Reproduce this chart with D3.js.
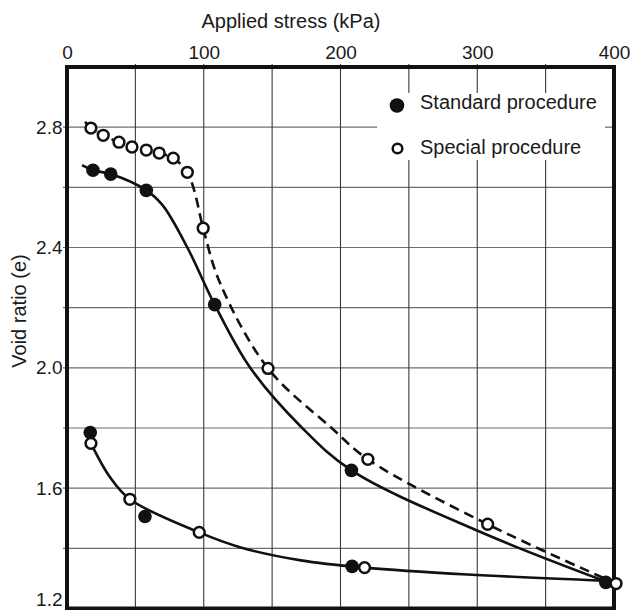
<!DOCTYPE html>
<html>
<head>
<meta charset="utf-8">
<script src="https://cdn.jsdelivr.net/npm/d3@7"></script>
<style>
  html, body { margin: 0; padding: 0; background: #fff; }
  svg { display: block; }
  text { font-family: "Liberation Sans", Arial, sans-serif; fill: #1a1a1a; }
</style>
</head>
<body>
<svg id="chart" width="630" height="610"></svg>
<script>
// ---- Data ----
// Marker points: [applied stress kPa, void ratio]
const standardLoading = [[19, 2.657], [32, 2.644], [58, 2.59], [108, 2.21], [208, 1.659], [394, 1.287]];
const standardUnloading = [[17, 1.785], [57, 1.506], [208.5, 1.34]];
const specialLoading = [[17.5, 2.797], [26.5, 2.773], [38, 2.75], [47.5, 2.734], [58, 2.724], [67.4, 2.714],
  [77.7, 2.697], [88, 2.65], [99.6, 2.464], [147, 1.998], [220, 1.696], [307.6, 1.48], [401.5, 1.283]];
const specialUnloading = [[17.5, 1.749], [46, 1.563], [96.7, 1.453], [217.6, 1.336]];

// Curve knots
const standardLoadingCurve = [[11, 2.674], [19, 2.657], [32, 2.644], [58, 2.59], [70, 2.54], [88, 2.40],
  [108, 2.21], [134, 2.0], [172, 1.8], [208, 1.659], [302, 1.455], [394, 1.29]];
const specialLoadingCurve = [[13.2, 2.818], [17.5, 2.797], [26.5, 2.773], [38, 2.75], [47.5, 2.734], [58, 2.724],
  [67.4, 2.714], [77.7, 2.697], [88, 2.65], [93, 2.59], [99.6, 2.464], [112, 2.281],
  [147, 1.998], [193.5, 1.8], [220, 1.696], [307.6, 1.48], [401.5, 1.283]];
const unloadingCurve = [[17.5, 1.749], [31.5, 1.636], [46, 1.563], [96.7, 1.453], [127, 1.403], [171, 1.36],
  [217.6, 1.336], [293, 1.313], [394, 1.292]];

// Axes
const xDomain = [0, 400];
const yDomain = [1.2, 3.0];
const xTickLabels = [0, 100, 200, 300, 400];
const xGridValues = [50, 100, 150, 200, 250, 300, 350];
const yTickLabels = [1.2, 1.6, 2.0, 2.4, 2.8];
const yGridValues = [1.4, 1.6, 1.8, 2.0, 2.2, 2.4, 2.6, 2.8];

const legendItems = ["Standard procedure", "Special procedure"];
const xTitle = "Applied stress (kPa)";
const yTitle = "Void ratio (e)";

// ---- Drawing ----
const svg = d3.select("#chart");
const L = 67, R = 614, T = 67, B = 608.5;
const x = d3.scaleLinear().domain(xDomain).range([L, R]);
const y = d3.scaleLinear().domain(yDomain).range([B, T]);

// grid
svg.append("g").selectAll("line").data(yGridValues).join("line")
  .attr("x1", L - 4).attr("x2", R).attr("y1", d => y(d)).attr("y2", d => y(d))
  .attr("stroke", "#6e6e6e").attr("stroke-width", 1.2);
svg.append("g").selectAll("line").data(xGridValues).join("line")
  .attr("y1", T - 3).attr("y2", B).attr("x1", d => x(d)).attr("x2", d => x(d))
  .attr("stroke", "#3a3a3a").attr("stroke-width", 1.1);

// top axis labels
const xAxis = d3.axisTop(x).tickValues(xTickLabels).tickSize(0).tickPadding(8).tickFormat(d3.format("d"));
const gx = svg.append("g").attr("transform", `translate(0,${T})`).call(xAxis);
gx.select(".domain").remove();
gx.selectAll("text").attr("font-size", 19).attr("fill", "#1a1a1a")
  .attr("font-family", '"Liberation Sans", Arial, sans-serif');

// left axis labels
const yAxis = d3.axisLeft(y).tickValues(yTickLabels).tickSize(0).tickPadding(4.5).tickFormat(d3.format(".1f"));
const gy = svg.append("g").attr("transform", `translate(${L},0)`).call(yAxis);
gy.select(".domain").remove();
gy.selectAll("text").attr("font-size", 19).attr("fill", "#1a1a1a")
  .attr("font-family", '"Liberation Sans", Arial, sans-serif');
gy.selectAll(".tick").filter(d => d === 1.2).select("text").attr("y", -9.5);

// titles
svg.append("text").attr("x", 291).attr("y", 28).attr("text-anchor", "middle")
  .attr("font-size", 20).text(xTitle);
svg.append("text").attr("transform", "translate(26,311) rotate(-90)").attr("text-anchor", "middle")
  .attr("font-size", 20).text(yTitle);

// legend background
svg.append("rect").attr("x", 377).attr("y", 93).attr("width", 228).attr("height", 67).attr("fill", "#fff");

// curves
const line = d3.line().x(d => x(d[0])).y(d => y(d[1])).curve(d3.curveCatmullRom.alpha(0.5));
svg.append("path").attr("d", line(standardLoadingCurve)).attr("fill", "none")
  .attr("stroke", "#111").attr("stroke-width", 2.6);
svg.append("path").attr("d", line(specialLoadingCurve)).attr("fill", "none")
  .attr("stroke", "#111").attr("stroke-width", 2.6).attr("stroke-dasharray", "10,6");
svg.append("path").attr("d", line(unloadingCurve)).attr("fill", "none")
  .attr("stroke", "#111").attr("stroke-width", 2.6);

// frame
svg.append("rect").attr("x", L).attr("y", T).attr("width", R - L).attr("height", B - T)
  .attr("fill", "none").attr("stroke", "#111").attr("stroke-width", 4);

// markers: filled first, open drawn over
svg.append("g").selectAll("circle").data(standardLoading.concat(standardUnloading)).join("circle")
  .attr("cx", d => x(d[0])).attr("cy", d => y(d[1])).attr("r", 6.8).attr("fill", "#111");
svg.append("g").selectAll("circle").data(specialLoading.concat(specialUnloading)).join("circle")
  .attr("cx", d => x(d[0])).attr("cy", d => y(d[1])).attr("r", 5.4).attr("fill", "#fff")
  .attr("stroke", "#111").attr("stroke-width", 2.5);

// legend
const lg = svg.append("g");
lg.append("circle").attr("cx", 397).attr("cy", 105.5).attr("r", 7.3).attr("fill", "#111");
lg.append("circle").attr("cx", 397.5).attr("cy", 148.5).attr("r", 4.8).attr("fill", "#fff")
  .attr("stroke", "#111").attr("stroke-width", 2.5);
lg.selectAll("text").data(legendItems).join("text")
  .attr("x", 420).attr("y", (d, i) => i === 0 ? 109 : 154).attr("font-size", 20).text(d => d);
</script>
</body>
</html>
